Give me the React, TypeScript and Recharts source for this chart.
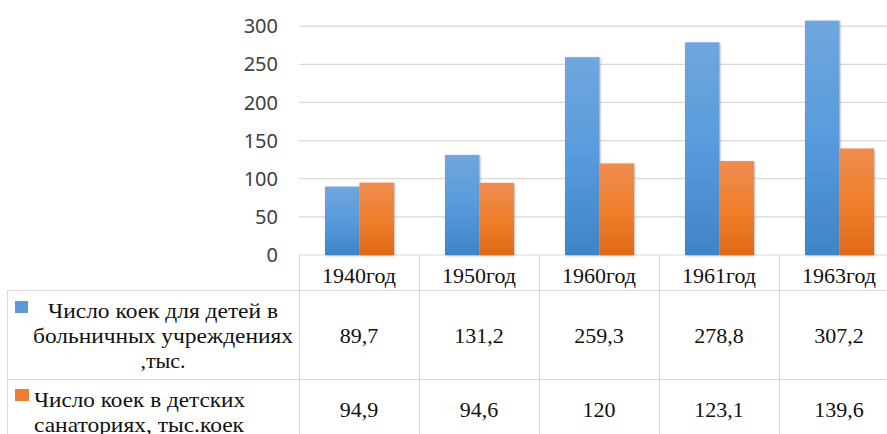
import React from 'react';
import { BarChart, Bar, XAxis, YAxis, CartesianGrid } from 'recharts';

const years = ['1940год', '1950год', '1960год', '1961год', '1963год'];
const hospitalBeds = [89.7, 131.2, 259.3, 278.8, 307.2];
const sanatoriumBeds = [94.9, 94.6, 120, 123.1, 139.6];
const hospitalLabelLines = ['Число коек для детей в', 'больничных учреждениях', ',тыс.'];
const sanatoriumLabelLines = ['Число коек в детских', 'санаториях, тыс.коек'];
const yTicks = [0, 50, 100, 150, 200, 250, 300];

const data = years.map((year, i) => ({
  year,
  hospital: hospitalBeds[i],
  sanatorium: sanatoriumBeds[i],
}));

const LINE = '#d9d9d9';
const SERIF = '"Liberation Serif", "Times New Roman", serif';
const TEXT = '#111111';
const BAND = 120;

const fmt = (v: number) => String(v).replace('.', ',');

const BarShape = (props: any) => {
  const { x, y, width, height, fill } = props;
  if (!height || height <= 0) return null;
  return <rect x={x} y={y} width={width} height={height} fill={fill} filter="url(#barShadow)" />;
};

const TableTick = (props: any) => {
  const { x, y, payload, index } = props;
  const half = BAND / 2;
  const i = index ?? payload.index;
  const left = x - half;
  const right = x + half;
  const h1 = y + 35.5; // header bottom
  const h2 = y + 124.5; // row 1 bottom
  return (
    <g>
      {/* column borders */}
      <line x1={right + 0.5} y1={y} x2={right + 0.5} y2={y + 190} stroke={LINE} strokeWidth={1} />
      {i === 0 && <line x1={left + 0.5} y1={y} x2={left + 0.5} y2={y + 190} stroke={LINE} strokeWidth={1} />}
      <line x1={left} y1={h1} x2={right + 1} y2={h1} stroke={LINE} strokeWidth={1} />
      <line x1={left} y1={h2} x2={right + 1} y2={h2} stroke={LINE} strokeWidth={1} />
      {/* header */}
      <text x={x} y={y + 28} textAnchor="middle" fontFamily={SERIF} fontSize={22} fill={TEXT}>
        {payload.value}
      </text>
      {/* values */}
      <text x={x} y={y + 88} textAnchor="middle" fontFamily={SERIF} fontSize={22} fill={TEXT}>
        {fmt(hospitalBeds[i])}
      </text>
      <text x={x} y={y + 162} textAnchor="middle" fontFamily={SERIF} fontSize={22} fill={TEXT}>
        {fmt(sanatoriumBeds[i])}
      </text>
      {i === 0 && (
        <g>
          <line x1={7} y1={h1} x2={left} y2={h1} stroke={LINE} strokeWidth={1} />
          <line x1={7} y1={h2} x2={left} y2={h2} stroke={LINE} strokeWidth={1} />
          <line x1={7.5} y1={h1} x2={7.5} y2={y + 190} stroke={LINE} strokeWidth={1} />
          <rect x={15} y={y + 46} width={13} height={12} fill="#5b9bd5" />
          <text x={48} y={y + 63} fontFamily={SERIF} fontSize={22} fill={TEXT} textLength={230} lengthAdjust="spacingAndGlyphs">
            {hospitalLabelLines[0]}
          </text>
          <text x={33} y={y + 88} fontFamily={SERIF} fontSize={22} fill={TEXT} textLength={260} lengthAdjust="spacingAndGlyphs">
            {hospitalLabelLines[1]}
          </text>
          <text x={163} y={y + 113} textAnchor="middle" fontFamily={SERIF} fontSize={22} fill={TEXT}>
            {hospitalLabelLines[2]}
          </text>
          <rect x={15} y={y + 134} width={14} height={12} fill="#ed7d31" />
          <text x={34} y={y + 152} fontFamily={SERIF} fontSize={22} fill={TEXT} textLength={211} lengthAdjust="spacingAndGlyphs">
            {sanatoriumLabelLines[0]}
          </text>
          <text x={34} y={y + 177} fontFamily={SERIF} fontSize={22} fill={TEXT} textLength={210} lengthAdjust="spacingAndGlyphs">
            {sanatoriumLabelLines[1]}
          </text>
        </g>
      )}
    </g>
  );
};

export default function App() {
  return (
    <div
      style={{
        position: 'fixed',
        left: 0,
        top: 0,
        width: 887,
        height: 434,
        overflow: 'hidden',
        background: '#ffffff',
      }}
    >
      <div style={{ position: 'absolute', left: 0, top: -20 }}>
        <BarChart
          width={904}
          height={460}
          data={data}
          margin={{ top: 8, right: 5, bottom: 0, left: 239 }}
          barGap={0}
          barSize={34.5}
        >
          <defs>
            <linearGradient id="gradBlue" x1="0" y1="0" x2="0" y2="1">
              <stop offset="0%" stopColor="#70a6dd" />
              <stop offset="50%" stopColor="#589bdc" />
              <stop offset="100%" stopColor="#3f84c5" />
            </linearGradient>
            <linearGradient id="gradOrange" x1="0" y1="0" x2="0" y2="1">
              <stop offset="0%" stopColor="#ef8c52" />
              <stop offset="50%" stopColor="#f07f2c" />
              <stop offset="100%" stopColor="#e06918" />
            </linearGradient>
            <filter id="barShadow" x="-20%" y="-5%" width="140%" height="110%">
              <feDropShadow dx="0.8" dy="0.8" stdDeviation="1.3" floodColor="#000000" floodOpacity="0.3" />
            </filter>
          </defs>
          <CartesianGrid vertical={false} stroke={LINE} strokeWidth={1.2} />
          <XAxis
            dataKey="year"
            axisLine={false}
            tickLine={false}
            tickSize={0}
            tickMargin={0}
            height={185}
            interval={0}
            tick={<TableTick />}
          />
          <YAxis
            width={60}
            domain={[0, 350]}
            ticks={yTicks}
            axisLine={false}
            tickLine={false}
            tickSize={0}
            tickMargin={21}
            tick={{ fontFamily: '"Noto Sans", "Open Sans", sans-serif', fontSize: 20, fill: '#404040' }}
          />
          <Bar dataKey="hospital" fill="url(#gradBlue)" shape={<BarShape />} isAnimationActive={false} />
          <Bar dataKey="sanatorium" fill="url(#gradOrange)" shape={<BarShape />} isAnimationActive={false} />
        </BarChart>
      </div>
    </div>
  );
}
